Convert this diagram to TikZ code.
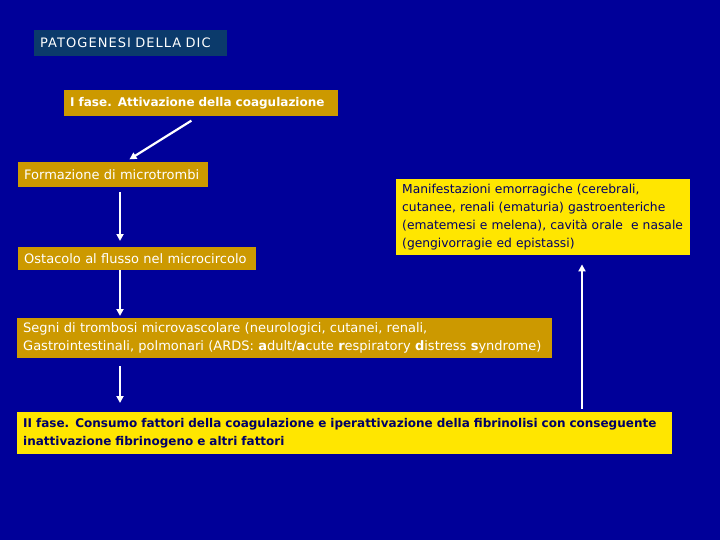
\documentclass[tikz,border=0pt]{standalone}
\usepackage{fontspec}
\setmainfont{DejaVu Sans}
\usetikzlibrary{arrows.meta,calc}
\definecolor{bgblue}{HTML}{000099}
\definecolor{titleblue}{HTML}{0B3A6B}
\definecolor{gold}{HTML}{CC9900}
\definecolor{yell}{HTML}{FFE600}
\definecolor{navy}{HTML}{000066}
\tikzset{
  box/.style={anchor=north west, inner xsep=6pt, inner ysep=0pt, align=left, font=\fontsize{13}{18}\selectfont, text=white},
  boldtext/.style={font=\fontsize{12}{18}\selectfont\bfseries},
  goldbox/.style={box, fill=gold},
  yellbox/.style={box, fill=yell, text=navy},
  arr/.style={draw=white, line width=2.2pt, -{Triangle[length=7pt,width=7pt]}}
}
\begin{document}
\begin{tikzpicture}[x=1pt,y=-1pt]
\fill[bgblue] (0,0) rectangle (720,540);
\useasboundingbox (0,0) rectangle (720,540);
\node[box, fill=titleblue, minimum width=193, minimum height=26, text width=181, font=\fontsize{13}{18}\selectfont\addfontfeature{LetterSpace=8}] (title) at (34,30) {PATOGENESI DELLA DIC};
\node[goldbox, boldtext, minimum width=274, minimum height=26, text width=262] (fase1) at (64,90) {I fase. Attivazione della coagulazione};
\node[goldbox, minimum width=190, minimum height=25, text width=178] (form) at (18,162) {Formazione di microtrombi};
\node[goldbox, minimum width=238, minimum height=23, text width=226] (ost) at (18,247) {Ostacolo al flusso nel microcircolo};
\node[yellbox, minimum width=294, minimum height=76, text width=282, font=\fontsize{12.3}{18}\selectfont] (manif) at (396,179) {Manifestazioni emorragiche (cerebrali,\\cutanee, renali (ematuria) gastroenteriche\\(ematemesi e melena), cavità orale\ \ e nasale\\(gengivorragie ed epistassi)};
\node[goldbox, minimum width=535, minimum height=40, text width=523] (segni) at (17,318) {Segni di trombosi microvascolare (neurologici, cutanei, renali,\\Gastrointestinali, polmonari (ARDS: \textbf{a}dult/\textbf{a}cute \textbf{r}espiratory \textbf{d}istress \textbf{s}yndrome)};
\node[yellbox, boldtext, minimum width=655, minimum height=42, text width=643] (fase2) at (17,412) {II fase. Consumo fattori della coagulazione e iperattivazione della fibrinolisi con conseguente\\inattivazione fibrinogeno e altri fattori};
\coordinate (colx) at (120,0);
\coordinate (colr) at (582,0);
\draw[arr, shorten <=8pt, shorten >=5pt] ([xshift=-3pt]fase1.south) -- ([xshift=12pt]form.north);
\draw[arr, shorten <=5pt, shorten >=6pt] (form.south -| colx) -- (ost.north -| colx);
\draw[arr, shorten >=2pt] (ost.south -| colx) -- (segni.north -| colx);
\draw[arr, shorten <=8pt, shorten >=9pt] (segni.south -| colx) -- (fase2.north -| colx);
\draw[arr, shorten <=3pt, shorten >=9pt] (fase2.north -| colr) -- (manif.south -| colr);
\end{tikzpicture}
\end{document}
